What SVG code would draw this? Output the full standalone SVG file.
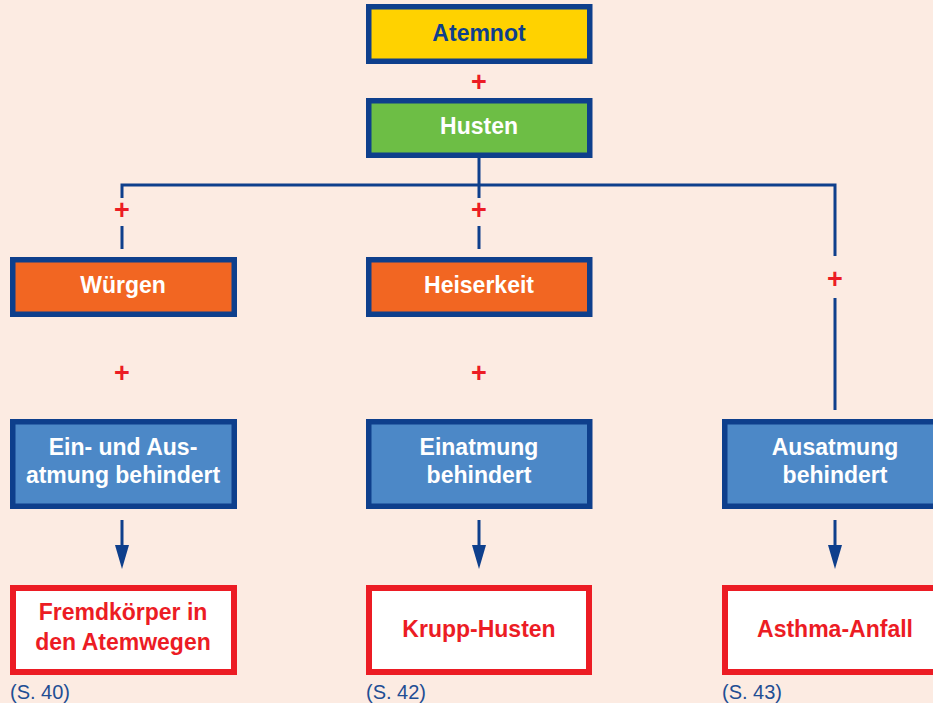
<svg xmlns="http://www.w3.org/2000/svg" width="933" height="703" viewBox="0 0 933 703">
<defs>
<style>
.bg{fill:#fcebe2}
.box{stroke:#0e3f8c;stroke-width:5.5}
.yellow{fill:#ffd200}
.green{fill:#6dbe45}
.orange{fill:#f26622}
.blue{fill:#4c88c7}
.res{fill:#ffffff;stroke:#ec1c24;stroke-width:6}
.t{font-family:"Liberation Sans",Arial,sans-serif;font-weight:bold;font-size:23px;text-anchor:middle}
.dark{fill:#0e3f8c}
.white{fill:#ffffff}
.redt{fill:#ec1c24}
.plus{font-family:"Liberation Sans",Arial,sans-serif;font-weight:bold;font-size:27px;fill:#ec1c24;text-anchor:middle}
.ref{font-family:"Liberation Sans",Arial,sans-serif;font-size:20px;fill:#1f4e94}
.ln{stroke:#0e3f8c;stroke-width:3;fill:none}
</style>
</defs>
<rect class="bg" x="0" y="0" width="933" height="703"/>

<g id="connectors">
<path class="ln" d="M479,158 V185 M122,198 V185 H835 V256 M479,185 V198"/>
<path class="ln" d="M122,226 V249 M479,226 V249 M835,298 V410"/>
<path class="ln" d="M122,520 V545"/>
<path class="ln" d="M479,520 V545"/>
<path class="ln" d="M835,520 V545"/>
<path d="M115,545 L129,545 L122,569 Z" fill="#0e3f8c"/>
<path d="M472,545 L486,545 L479,569 Z" fill="#0e3f8c"/>
<path d="M828,545 L842,545 L835,569 Z" fill="#0e3f8c"/>
<text class="plus" x="479" y="91">+</text>
<text class="plus" x="122" y="219">+</text>
<text class="plus" x="479" y="219">+</text>
<text class="plus" x="835" y="288">+</text>
<text class="plus" x="122" y="382">+</text>
<text class="plus" x="479" y="382">+</text>
</g>

<g id="atemnot">
<rect class="box yellow" x="368.75" y="6.75" width="221" height="54.5"/>
<text class="t dark" x="479" y="41">Atemnot</text>
</g>
<g id="husten">
<rect class="box green" x="368.75" y="100.75" width="221" height="54.5"/>
<text class="t white" x="479" y="134">Husten</text>
</g>
<g id="wuergen">
<rect class="box orange" x="12.75" y="259.75" width="221.5" height="54.5"/>
<text class="t white" x="123" y="293">Würgen</text>
</g>
<g id="heiserkeit">
<rect class="box orange" x="368.75" y="259.75" width="221" height="54.5"/>
<text class="t white" x="479" y="293">Heiserkeit</text>
</g>
<g id="ein-aus">
<rect class="box blue" x="12.75" y="421.75" width="221.5" height="84.5"/>
<text class="t white" x="123" y="455">Ein- und Aus-</text>
<text class="t white" x="123" y="483">atmung behindert</text>
</g>
<g id="einatmung">
<rect class="box blue" x="368.75" y="421.75" width="221" height="84.5"/>
<text class="t white" x="479" y="455">Einatmung</text>
<text class="t white" x="479" y="483">behindert</text>
</g>
<g id="ausatmung">
<rect class="box blue" x="724.75" y="421.75" width="240" height="84.5"/>
<text class="t white" x="835" y="455">Ausatmung</text>
<text class="t white" x="835" y="483">behindert</text>
</g>
<g id="fremdkoerper">
<rect class="res" x="13" y="588" width="221" height="84"/>
<text class="t redt" x="123" y="620">Fremdkörper in</text>
<text class="t redt" x="123" y="650">den Atemwegen</text>
<text class="ref" x="10" y="699">(S. 40)</text>
</g>
<g id="krupp">
<rect class="res" x="369" y="588" width="220" height="84"/>
<text class="t redt" x="479" y="637">Krupp-Husten</text>
<text class="ref" x="366" y="699">(S. 42)</text>
</g>
<g id="asthma">
<rect class="res" x="725" y="588" width="240" height="84"/>
<text class="t redt" x="835" y="637">Asthma-Anfall</text>
<text class="ref" x="722" y="699">(S. 43)</text>
</g>
</svg>
